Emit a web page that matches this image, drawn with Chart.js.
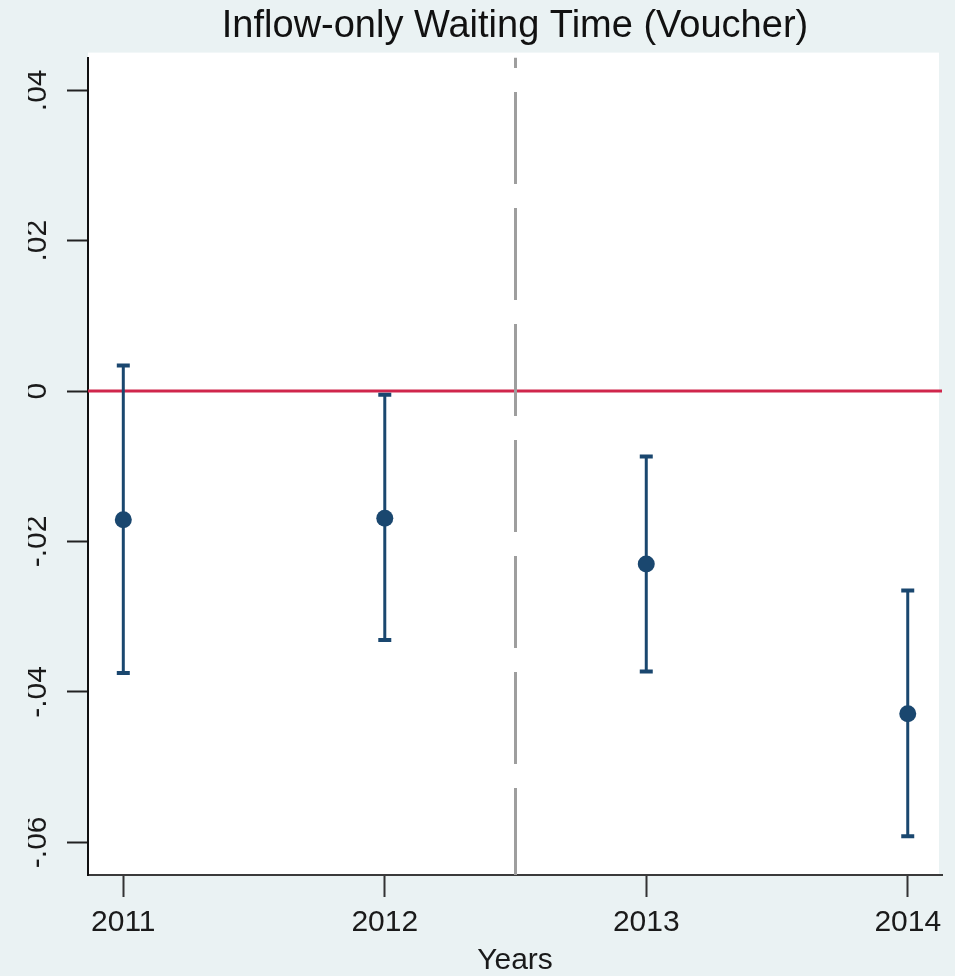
<!DOCTYPE html>
<html>
<head>
<meta charset="utf-8">
<title>Inflow-only Waiting Time (Voucher)</title>
<script src="https://cdn.jsdelivr.net/npm/chart.js@4/dist/chart.umd.min.js"></script>
<style>
  html, body { margin: 0; padding: 0; background: #eaf2f3; }
  #wrap { width: 955px; height: 976px; }
</style>
</head>
<body>
<div id="wrap"><canvas id="chart" width="955" height="976"></canvas></div>
<script>
// Event-study coefficients with 95% confidence intervals
const years = [2011, 2012, 2013, 2014];
const estimates = [-0.0171, -0.0169, -0.0230, -0.0429];
const ciLower = [-0.0375, -0.0331, -0.0373, -0.0592];
const ciUpper = [0.0034, -0.0005, -0.0087, -0.0265];

// Axis ticks and their printed labels
const yTickValues = [-0.06, -0.04, -0.02, 0, 0.02, 0.04];
const yTickLabels = ['-.06', '-.04', '-.02', '0', '.02', '.04'];
const xTickLabels = ['2011', '2012', '2013', '2014'];

// Reference lines: zero effect and the policy break between 2012 and 2013
const zeroLevel = 0;
const policyBreak = 2012.5;

// Axis extents
const xMin = 2010.865, xMax = 2014.131;
const yMin = -0.06435, yMax = 0.04435;

const FONT = "'Liberation Sans', Arial, Helvetica, sans-serif";
const NAVY = '#1a476f';

// Confidence-interval segments: lower/upper pairs separated by gaps
const ciData = [];
years.forEach((yr, i) => {
  ciData.push({ x: yr, y: ciLower[i] });
  ciData.push({ x: yr, y: ciUpper[i] });
  ciData.push({ x: yr, y: null });
});

// Light background around a white plot region
const plotBackground = {
  id: 'plotBackground',
  beforeDraw(chart) {
    const { ctx, chartArea: a } = chart;
    ctx.save();
    ctx.fillStyle = '#eaf2f3';
    ctx.fillRect(0, 0, chart.width, chart.height);
    ctx.fillStyle = '#ffffff';
    ctx.fillRect(a.left, a.top - 5, a.right - a.left - 3, a.bottom - a.top + 5);
    ctx.restore();
  }
};

new Chart(document.getElementById('chart'), {
  type: 'scatter',
  data: {
    datasets: [
      {
        label: 'zero',
        data: [{ x: xMin, y: zeroLevel }, { x: xMax, y: zeroLevel }],
        showLine: true,
        borderColor: '#d0264c',
        borderWidth: 3,
        pointRadius: 0,
        order: 4
      },
      {
        label: 'break',
        data: [{ x: policyBreak, y: yMin }, { x: policyBreak, y: yMax }],
        showLine: true,
        borderColor: '#9e9e9e',
        borderWidth: 3,
        borderDash: [92, 24],
        borderDashOffset: 5,
        pointRadius: 0,
        order: 3
      },
      {
        label: '95% CI',
        data: ciData,
        showLine: true,
        spanGaps: false,
        borderColor: NAVY,
        borderWidth: 3,
        pointStyle: 'line',
        pointRadius: 6.5,
        pointBorderWidth: 4,
        pointBorderColor: NAVY,
        pointBackgroundColor: NAVY,
        order: 2
      },
      {
        label: 'Estimate',
        data: years.map((yr, i) => ({ x: yr, y: estimates[i] })),
        pointStyle: 'circle',
        pointRadius: 8.5,
        pointBackgroundColor: NAVY,
        pointBorderColor: NAVY,
        pointBorderWidth: 0,
        order: 1
      }
    ]
  },
  options: {
    responsive: false,
    animation: false,
    devicePixelRatio: 1,
    layout: { padding: { left: 28, right: 13, top: 0, bottom: 0 } },
    plugins: {
      legend: { display: false },
      tooltip: { enabled: false },
      title: {
        display: true,
        text: 'Inflow-only Waiting Time (Voucher)',
        fullSize: false,
        color: '#111111',
        font: { family: FONT, size: 38, weight: 'normal', lineHeight: 1.2 },
        padding: { top: 4, bottom: 8 }
      }
    },
    scales: {
      x: {
        type: 'linear',
        min: xMin,
        max: xMax,
        afterBuildTicks(scale) {
          scale.ticks = years.map(v => ({ value: v }));
        },
        afterFit(scale) {
          scale.height = 101;
        },
        ticks: {
          color: '#1a1a1a',
          font: { family: FONT, size: 30 },
          padding: 8,
          maxRotation: 0,
          callback: (v, i) => xTickLabels[i]
        },
        grid: {
          drawOnChartArea: false,
          drawTicks: true,
          tickLength: 22,
          tickColor: '#333333',
          tickWidth: 2
        },
        border: { display: true, color: '#3a3a3a', width: 2 },
        title: {
          display: true,
          text: 'Years',
          color: '#1a1a1a',
          font: { family: FONT, size: 30, lineHeight: 1.0 },
          padding: { top: 10, bottom: 0 }
        }
      },
      y: {
        type: 'linear',
        min: yMin,
        max: yMax,
        afterBuildTicks(scale) {
          scale.ticks = yTickValues.map(v => ({ value: v }));
        },
        afterFit(scale) {
          scale.width = 60;
        },
        ticks: {
          color: '#1a1a1a',
          font: { family: FONT, size: 30 },
          padding: 3,
          minRotation: 90,
          maxRotation: 90,
          crossAlign: 'center',
          callback: (v, i) => yTickLabels[i]
        },
        grid: {
          drawOnChartArea: false,
          drawTicks: true,
          tickLength: 21,
          tickColor: '#222222',
          tickWidth: 2
        },
        border: { display: true, color: '#111111', width: 2 }
      }
    }
  },
  plugins: [plotBackground]
});
</script>
</body>
</html>
